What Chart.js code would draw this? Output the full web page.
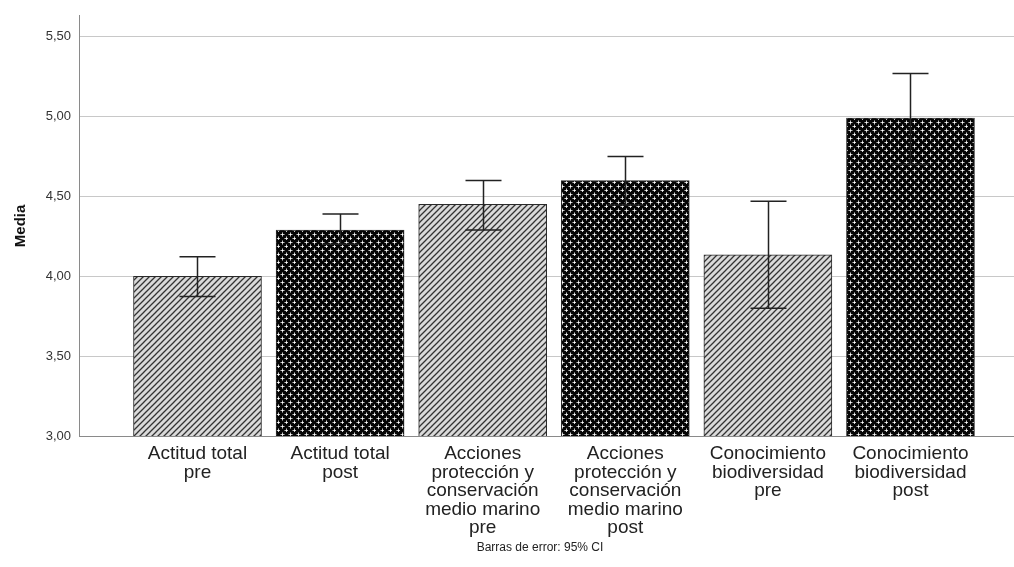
<!DOCTYPE html>
<html>
<head>
<meta charset="utf-8">
<script src="https://cdn.jsdelivr.net/npm/chart.js@4"></script>
<style>
  html, body { margin: 0; padding: 0; background: #fff; }
  #wrap { width: 1014px; height: 567px; position: relative; }
</style>
</head>
<body>
<div id="wrap"><canvas id="c" width="1014" height="567"></canvas></div>
<script>
const categories = [
  ["Actitud total", "pre"],
  ["Actitud total", "post"],
  ["Acciones", "protección y", "conservación", "medio marino", "pre"],
  ["Acciones", "protección y", "conservación", "medio marino", "post"],
  ["Conocimiento", "biodiversidad", "pre"],
  ["Conocimiento", "biodiversidad", "post"]
];
const means   = [4.00, 4.29, 4.45, 4.60, 4.135, 4.99];
const ciLow   = [3.873, 4.20, 4.29, 4.446, 3.80, 4.70];
const ciHigh  = [4.122, 4.39, 4.60, 4.75, 4.47, 5.27];
const patternKind = ["hatch", "cross", "hatch", "cross", "hatch", "cross"];
const yTicks = [3.0, 3.5, 4.0, 4.5, 5.0, 5.5];
const footerText = "Barras de error: 95% CI";

function makeHatch() {
  const t = document.createElement('canvas');
  t.width = 6; t.height = 6;
  const g = t.getContext('2d');
  g.fillStyle = '#dadada';
  g.fillRect(0, 0, 6, 6);
  g.strokeStyle = '#333';
  g.lineWidth = 1.3;
  g.beginPath();
  g.moveTo(-1, 7); g.lineTo(7, -1);
  g.moveTo(-4, 4); g.lineTo(4, -4);
  g.moveTo(2, 10); g.lineTo(10, 2);
  g.stroke();
  return g.createPattern(t, 'repeat');
}
function makeCross() {
  const t = document.createElement('canvas');
  t.width = 8; t.height = 8;
  const g = t.getContext('2d');
  g.fillStyle = '#050505';
  g.fillRect(0, 0, 8, 8);
  const plus = (cx, cy) => {
    g.fillStyle = '#6e6e6e';
    g.fillRect(cx - 2, cy, 5, 1);
    g.fillRect(cx, cy - 2, 1, 5);
    g.fillStyle = '#c8c8c8';
    g.fillRect(cx - 1, cy, 3, 1);
    g.fillRect(cx, cy - 1, 1, 3);
    g.fillStyle = '#ffffff';
    g.fillRect(cx, cy, 1, 1);
  };
  plus(2, 2); plus(6, 6);
  return g.createPattern(t, 'repeat');
}
const hatch = makeHatch();
const cross = makeCross();

const errorBars = {
  id: 'errorBars',
  afterDatasetsDraw(chart) {
    const ctx = chart.ctx;
    const xs = chart.scales.x, ys = chart.scales.y;
    ctx.save();
    ctx.strokeStyle = '#222';
    ctx.lineWidth = 1.5;
    for (let i = 0; i < means.length; i++) {
      const x = Math.round(xs.getPixelForValue(i)) + 0.5;
      const yl = ys.getPixelForValue(ciLow[i]);
      const yh = ys.getPixelForValue(ciHigh[i]);
      ctx.beginPath();
      ctx.moveTo(x, yl); ctx.lineTo(x, yh);
      ctx.moveTo(x - 18, yl); ctx.lineTo(x + 18, yl);
      ctx.moveTo(x - 18, yh); ctx.lineTo(x + 18, yh);
      ctx.stroke();
    }
    ctx.restore();
  }
};
const footer = {
  id: 'footer',
  afterDraw(chart) {
    const ctx = chart.ctx;
    ctx.save();
    ctx.fillStyle = '#222';
    ctx.font = '12px "Liberation Sans", Arial, sans-serif';
    ctx.textAlign = 'center';
    ctx.textBaseline = 'middle';
    ctx.fillText(footerText, 540, 548);
    ctx.restore();
  }
};

new Chart(document.getElementById('c'), {
  type: 'bar',
  data: {
    datasets: [{
      data: means.map((v, i) => ({ x: i, y: v })),
      backgroundColor: patternKind.map(k => k === 'hatch' ? hatch : cross),
      borderColor: '#2a2a2a',
      borderWidth: 1,
      borderSkipped: false,
      barThickness: 128,
      maxBarThickness: 128
    }]
  },
  options: {
    responsive: false,
    animation: false,
    devicePixelRatio: 1,
    layout: { padding: { top: 14, right: 0, left: 0, bottom: 0 } },
    plugins: { legend: { display: false }, tooltip: { enabled: false } },
    scales: {
      x: {
        type: 'linear',
        offset: false,
        bounds: 'data',
        min: -0.831,
        max: 5.726,
        grid: { display: false, drawTicks: false, offset: false },
        border: { display: true, color: '#8a8a8a', width: 1 },
        afterBuildTicks(scale) { scale.ticks = categories.map((c, i) => ({ value: i })); },
        afterFit(scale) { scale.height = 131; scale.paddingLeft = 0; scale.paddingRight = 0; },
        ticks: {
          autoSkip: false,
          maxRotation: 0,
          padding: 9,
          color: '#222',
          font: { family: '"Liberation Sans", Arial, sans-serif', size: 19, lineHeight: '18.5px' },
          callback: (v) => categories[v] || ''
        }
      },
      y: {
        type: 'linear',
        min: 3.0,
        max: 5.631,
        afterBuildTicks(scale) { scale.ticks = yTicks.map(v => ({ value: v })); },
        afterFit(scale) { scale.width = 79; },
        grid: { color: '#c8c8c8', lineWidth: 1, drawTicks: false },
        border: { display: true, color: '#8a8a8a', width: 1 },
        ticks: {
          padding: 8,
          color: '#333',
          font: { family: '"Liberation Sans", Arial, sans-serif', size: 13 },
          callback: (v) => v.toFixed(2).replace('.', ',')
        },
        title: {
          display: true,
          text: 'Media',
          color: '#111',
          padding: { top: 12, bottom: 0 },
          font: { family: '"Liberation Sans", Arial, sans-serif', size: 15, weight: 'bold' }
        }
      }
    }
  },
  plugins: [errorBars, footer]
});
</script>
</body>
</html>
